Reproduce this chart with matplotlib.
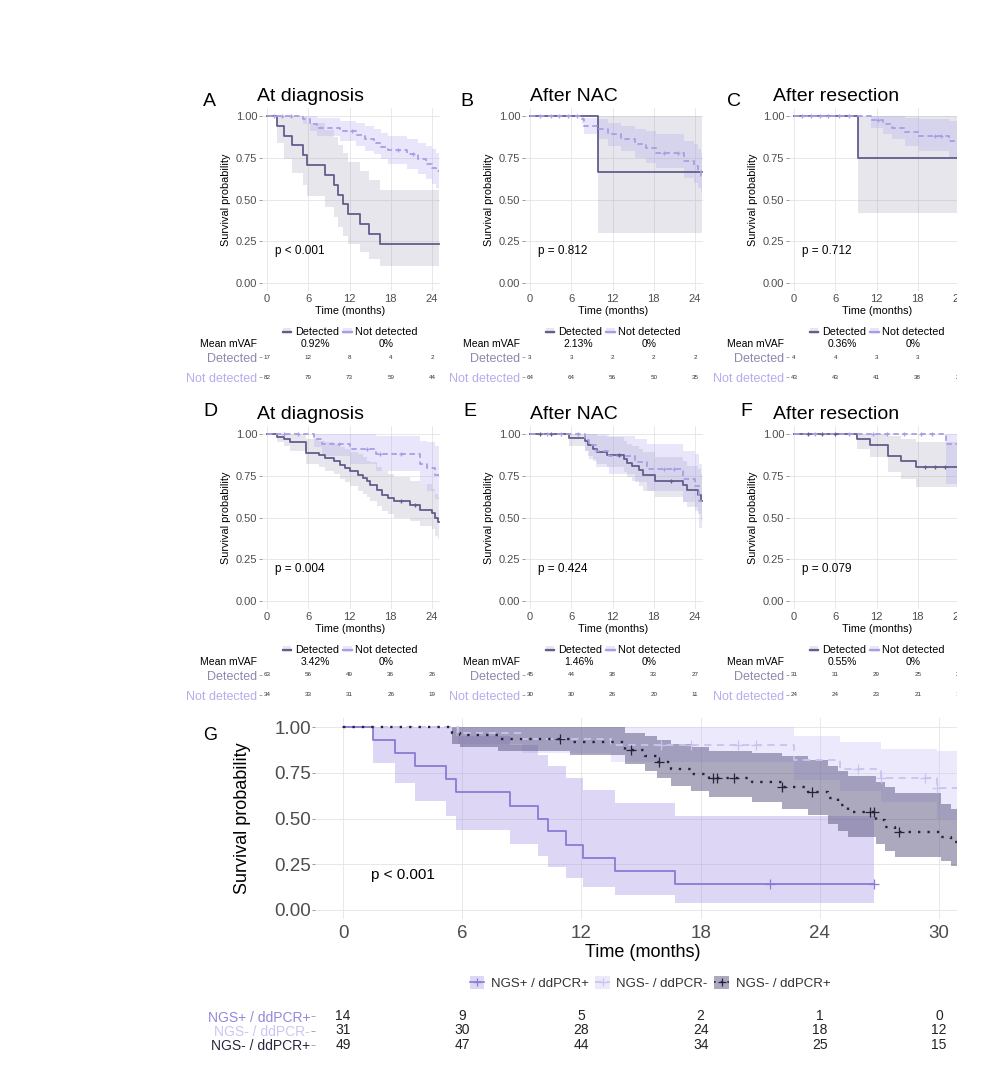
import matplotlib
matplotlib.use("Agg")
import matplotlib.pyplot as plt
import numpy as np
from matplotlib.patches import Patch, Rectangle
from matplotlib.lines import Line2D

plt.rcParams['font.family'] = ['Liberation Sans', 'DejaVu Sans']

# ---- panel A: at diagnosis (NGS) ----
a_det_t = [0, 1.5, 2.5, 3.6, 5.3, 5.8, 8.4, 9.7, 10.3, 11.1, 11.8, 13.5, 14.9, 16.5]
a_det_s = [1, .941, .882, .824, .765, .706, .647, .588, .529, .471, .412, .353, .294, .235]
a_det_lo = [1, .836, .741, .661, .587, .519, .455, .395, .338, .284, .233, .186, .141, .100]
a_det_hi = [1, 1, 1, 1, .996, .959, .918, .875, .828, .780, .727, .672, .614, .554]
a_det_cens = []
a_nd_t = [0, 5.3, 6.3, 7.2, 10.6, 13.0, 14.2, 15.5, 16.6, 17.6, 20.4, 22.0, 23.1, 24.0, 24.6]
a_nd_s = [1, .98, .955, .928, .91, .885, .86, .84, .815, .795, .77, .74, .715, .69, .67]
a_nd_lo = [1, .95, .91, .88, .85, .82, .79, .77, .74, .71, .68, .65, .62, .59, .57]
a_nd_hi = [1, 1, 1, .99, .97, .96, .94, .92, .90, .88, .86, .84, .82, .80, .78]
a_nd_cens = [1.0, 2.2, 3.5, 12.3, 19.0, 21.2]
a_risk_det = [17, 12, 8, 4, 2]
a_risk_nd = [82, 79, 73, 59, 44]

# ---- panel B: after NAC (NGS) ----
b_det_t = [0, 9.85]
b_det_s = [1, .667]
b_det_lo = [1, .30]
b_det_hi = [1, 1]
b_det_cens = []
b_nd_t = [0, 7.5, 7.9, 10.0, 11.3, 13.2, 15.2, 16.8, 18.3, 22.4, 23.8, 24.4, 24.9]
b_nd_s = [1, .98, .94, .92, .89, .86, .83, .81, .78, .73, .70, .67, .64]
b_nd_lo = [1, .95, .89, .86, .82, .79, .75, .72, .69, .63, .60, .57, .54]
b_nd_hi = [1, 1, .99, .98, .96, .94, .92, .91, .89, .85, .83, .80, .78]
b_nd_cens = [1.5, 3.0, 4.2, 5.5, 6.8, 19.5, 21.5]
b_risk_det = [3, 3, 2, 2, 2]
b_risk_nd = [64, 64, 56, 50, 35]

# ---- panel C: after resection (NGS) ----
c_det_t = [0, 9.3]
c_det_s = [1, .75]
c_det_lo = [1, .42]
c_det_hi = [1, 1]
c_det_cens = []
c_nd_t = [0, 11.2, 13.0, 14.3, 16.2, 18.2, 22.6]
c_nd_s = [1, .976, .952, .928, .903, .878, .852]
c_nd_lo = [1, .93, .89, .86, .82, .79, .75]
c_nd_hi = [1, 1, 1, 1, .99, .98, .97]
c_nd_cens = [1.2, 2.5, 3.8, 5.0, 6.5, 8.0, 12.2, 20.5, 21.4]
c_risk_det = [4, 4, 3, 3, 3]
c_risk_nd = [43, 43, 41, 38, 29]

# ---- panel D: at diagnosis (ddPCR) ----
d_det_t = [0, 1.4, 2.4, 3.3, 5.6, 7.5, 8.4, 9.7, 10.6, 11.3, 12.0, 13.3, 14.0, 14.5, 15.0,
           15.95, 16.7, 17.6, 18.4, 20.8, 22.3, 24.0, 24.4, 24.8]
d_det_s = [1, .984, .968, .952, .889, .873, .857, .84, .816, .796, .776, .756, .737, .717, .697,
           .667, .637, .617, .597, .577, .547, .527, .497, .473]
d_det_lo = [1, .95, .93, .90, .82, .80, .78, .76, .73, .71, .69, .66, .64, .62, .60,
            .57, .54, .52, .50, .48, .45, .43, .39, .37]
d_det_hi = [1, 1, 1, 1, .97, .96, .95, .94, .92, .91, .89, .88, .86, .84, .83,
            .80, .78, .76, .74, .72, .70, .67, .64, .62]
d_det_cens = [19.5, 21.5]
d_nd_t = [0, 6.8, 8.0, 12.0, 15.8, 22.3, 23.3, 24.4]
d_nd_s = [1, .971, .941, .912, .882, .823, .794, .756]
d_nd_lo = [1, .92, .87, .82, .78, .70, .66, .61]
d_nd_hi = [1, 1, 1, 1, .99, .96, .95, .93]
d_nd_cens = [2.5, 4.5, 10.5, 14.5, 16.5, 19.5]
d_risk_det = [63, 56, 49, 36, 26]
d_risk_nd = [34, 33, 31, 26, 19]

# ---- panel E: after NAC (ddPCR) ----
e_det_t = [0, 5.7, 8.0, 8.5, 9.2, 9.7, 11.2, 13.6, 14.1, 14.8, 15.8, 16.5, 18.2, 22.3, 22.8, 24.5, 24.9]
e_det_s = [1, .978, .956, .933, .911, .892, .877, .852, .826, .806, .783, .756, .72, .693, .666, .636, .60]
e_det_lo = [1, .93, .90, .87, .84, .82, .80, .77, .74, .72, .69, .66, .62, .59, .56, .52, .48]
e_det_hi = [1, 1, 1, 1, 1, .99, .98, .96, .94, .93, .91, .89, .86, .84, .81, .79, .76]
e_det_cens = [1.5, 3.0, 13.0, 20.5]
e_nd_t = [0, 8.0, 8.6, 9.6, 11.5, 15.3, 17.0, 22.2, 24.0, 24.6]
e_nd_s = [1, .967, .933, .90, .867, .833, .79, .73, .69, .60]
e_nd_lo = [1, .90, .85, .80, .76, .71, .66, .59, .54, .44]
e_nd_hi = [1, 1, 1, 1, .99, .97, .94, .90, .88, .82]
e_nd_cens = [2.5, 4.5, 7.0, 19.5, 21.0]
e_risk_det = [45, 44, 38, 33, 27]
e_risk_nd = [30, 30, 26, 20, 11]

# ---- panel F: after resection (ddPCR) ----
f_det_t = [0, 9.2, 11.1, 13.6, 15.5, 17.7]
f_det_s = [1, .968, .935, .870, .838, .80]
f_det_lo = [1, .91, .86, .77, .73, .68]
f_det_hi = [1, 1, 1, .99, .97, .95]
f_det_cens = [2.0, 4.0, 6.0, 19.0, 20.5, 22.0]
f_nd_t = [0, 22.1]
f_nd_s = [1, .94]
f_nd_lo = [1, .70]
f_nd_hi = [1, 1]
f_nd_cens = [3.0, 8.0, 11.5, 13.5, 16.0, 18.5, 20.0]
f_risk_det = [31, 31, 29, 25, 22]
f_risk_nd = [24, 24, 23, 21, 14]

small_titles = ['At diagnosis', 'After NAC', 'After resection'] * 2
small_letters = ['A', 'B', 'C', 'D', 'E', 'F']
small_pvals = ['p < 0.001', 'p = 0.812', 'p = 0.712', 'p = 0.004', 'p = 0.424', 'p = 0.079']
small_vaf = ['0.92%', '2.13%', '0.36%', '3.42%', '1.46%', '0.55%']
risk_times = [0, 6, 12, 18, 24]
group_labels = ['Detected', 'Not detected']

# ---- panel G: combined NGS / ddPCR ----
g1_t = [0, 1.5, 2.6, 3.6, 5.2, 5.7, 8.4, 9.8, 10.3, 11.2, 12.1, 13.7, 16.7]
g1_s = [1, .929, .857, .786, .714, .643, .571, .5, .429, .357, .286, .214, .143]
g1_lo = [1, .803, .692, .598, .513, .435, .363, .296, .234, .177, .125, .079, .040]
g1_hi = [1, 1, 1, 1, .995, .950, .900, .845, .785, .721, .655, .584, .516]
g1_cens = [21.5, 26.7]
g1_end = 26.7
g2_t = [0, 5.8, 9.0, 13.5, 22.7, 25.0, 27.1, 29.9]
g2_s = [1, .968, .935, .903, .82, .77, .72, .665]
g2_lo = [1, .91, .86, .81, .71, .65, .59, .50]
g2_hi = [1, 1, 1, 1, .95, .92, .88, .87]
g2_cens = [16.0, 17.5, 19.9, 20.8, 25.9, 27.1, 29.3, 29.9]
g2_end = 31
g3_t = [0, 5.5, 5.9, 7.8, 11.4, 14.2, 15.2, 15.8, 16.5, 17.5, 18.4, 20.6, 22.1, 23.4, 24.4,
        24.9, 25.4, 26.8, 27.3, 27.8, 30.1, 30.6]
g3_s = [1, .969, .955, .937, .92, .874, .84, .809, .772, .745, .72, .70, .67, .645, .612,
        .575, .538, .492, .456, .428, .40, .37]
g3_lo = [1, .91, .89, .87, .85, .80, .76, .72, .68, .65, .62, .59, .55, .52, .47,
         .43, .40, .36, .32, .29, .27, .24]
g3_hi = [1, 1, 1, 1, 1, .97, .95, .93, .91, .89, .87, .86, .84, .82, .79,
         .76, .73, .70, .67, .64, .58, .55]
g3_cens = [10.9, 14.5, 15.9, 18.6, 18.8, 19.7, 22.1, 23.6, 26.5, 26.7, 28.0]
g3_end = 31
g_labels = ['NGS+ / ddPCR+', 'NGS- / ddPCR-', 'NGS- / ddPCR+']
g_risk_times = [0, 6, 12, 18, 24, 30]
g1_risk = [14, 9, 5, 2, 1, 0]
g2_risk = [31, 30, 28, 24, 18, 12]
g3_risk = [49, 47, 44, 34, 25, 15]

W, H = 1000, 1086
DET_LINE, ND_LINE = '#625d8b', '#a79fe4'
DET_BAND, ND_BAND = '#9c9cb4', '#a99ff0'
DET_TXT, ND_TXT = '#8d88ae', '#b4adef'
G_LINE = ['#8a7bd6', '#c9c3f0', '#26223a']
G_BAND = ['#a08be0', '#c8c2f5', '#5a5480']
G_ALPHA = [0.35, 0.35, 0.5]
G_TXT = ['#9488d8', '#ccc7f2', '#2b2741']


def box(l, r, t, b):
    return [l / W, 1 - b / H, (r - l) / W, (b - t) / H]


def km(ax, t, s, lo, hi, end, cens, color, band, alpha, ls, lw, ms):
    tt = list(t) + [end]
    ax.fill_between(tt, list(lo) + [lo[-1]], list(hi) + [hi[-1]], step='post',
                    color=band, alpha=alpha, lw=0, zorder=1)
    ax.step(tt, list(s) + [s[-1]], where='post', color=color, ls=ls, lw=lw, zorder=3)
    if cens:
        cs = [s[np.searchsorted(t, c, side='right') - 1] for c in cens]
        ax.plot(cens, cs, ls='none', marker='+', ms=ms, mew=0.9, color=color, zorder=4)


def base_style(ax, fs, ylen):
    ax.set_ylim(-0.05, 1.05)
    ax.set_yticks([0, .25, .5, .75, 1])
    ax.set_yticklabels(['0.00', '0.25', '0.50', '0.75', '1.00'])
    ax.grid(color='#e4e4e4', lw=0.6)
    ax.set_axisbelow(True)
    for sp in ax.spines.values():
        sp.set_visible(False)
    ax.tick_params(axis='y', length=ylen, width=0.6, color='#8a8a8a', pad=0.5,
                   labelsize=fs, labelcolor='#4d4d4d')


fig = plt.figure(figsize=(W / 100, H / 100), dpi=100)

small_data = [
    (a_det_t, a_det_s, a_det_lo, a_det_hi, a_det_cens, a_nd_t, a_nd_s, a_nd_lo, a_nd_hi, a_nd_cens, a_risk_det, a_risk_nd),
    (b_det_t, b_det_s, b_det_lo, b_det_hi, b_det_cens, b_nd_t, b_nd_s, b_nd_lo, b_nd_hi, b_nd_cens, b_risk_det, b_risk_nd),
    (c_det_t, c_det_s, c_det_lo, c_det_hi, c_det_cens, c_nd_t, c_nd_s, c_nd_lo, c_nd_hi, c_nd_cens, c_risk_det, c_risk_nd),
    (d_det_t, d_det_s, d_det_lo, d_det_hi, d_det_cens, d_nd_t, d_nd_s, d_nd_lo, d_nd_hi, d_nd_cens, d_risk_det, d_risk_nd),
    (e_det_t, e_det_s, e_det_lo, e_det_hi, e_det_cens, e_nd_t, e_nd_s, e_nd_lo, e_nd_hi, e_nd_cens, e_risk_det, e_risk_nd),
    (f_det_t, f_det_s, f_det_lo, f_det_hi, f_det_cens, f_nd_t, f_nd_s, f_nd_lo, f_nd_hi, f_nd_cens, f_risk_det, f_risk_nd),
]

col_x0 = [267, 530, 794]
letter_x = [[203, 460, 727], [203, 463, 740]]
title_x = [257, 530, 773]
row_y1 = [116, 434]
letter_base = [105.5, 416]
title_base = [101, 419]

for i, d in enumerate(small_data):
    row, col = divmod(i, 3)
    x0, y1 = col_x0[col], row_y1[row]
    l, r = x0 - 0.8 * 6.875, x0 + 25.1 * 6.875
    ax = fig.add_axes(box(l, r, y1 - 8.35, y1 + 175.35))
    km(ax, d[0], d[1], d[2], d[3], 25, d[4], DET_LINE, DET_BAND, 0.25, '-', 1.3, 3.5)
    km(ax, d[5], d[6], d[7], d[8], 25, d[9], ND_LINE, ND_BAND, 0.25, (0, (3, 2)), 1.3, 3.5)
    ax.set_xlim(-0.8, 25.1)
    ax.set_xticks(risk_times)
    base_style(ax, 8, 2.5)
    ax.tick_params(axis='x', length=0, pad=2, labelsize=8, labelcolor='#4d4d4d')
    ax.set_xlabel('Time (months)', fontsize=7.8)
    ax.xaxis.set_label_coords(0.5, -0.08)
    ax.set_ylabel('Survival probability', fontsize=7.8)
    ax.yaxis.set_label_coords(-0.17, 0.5)
    ax.text(1.2, 0.19, small_pvals[i], fontsize=8.5, va='center', ha='left')

    fig.text(letter_x[row][col] / W, 1 - letter_base[row] / H, small_letters[i],
             fontsize=14, va='baseline', ha='left')
    fig.text(title_x[col] / W, 1 - title_base[row] / H, small_titles[i],
             fontsize=14, va='baseline', ha='left')

    cx = (l + r) / 2
    handles = [(Patch(facecolor=DET_BAND, alpha=0.25, edgecolor='none'),
                Line2D([], [], color=DET_LINE, lw=1.6)),
               (Patch(facecolor=ND_BAND, alpha=0.25, edgecolor='none'),
                Line2D([], [], color=ND_LINE, lw=1.6))]
    fig.legend(handles, group_labels, loc='center', bbox_to_anchor=(cx / W, 1 - (y1 + 216) / H),
               ncol=2, frameon=False, fontsize=7.8, handlelength=0.75, handleheight=0.5,
               handletextpad=0.35, columnspacing=0.4, borderpad=0)
    fig.text((x0 - 67) / W, 1 - (y1 + 228) / H, 'Mean mVAF', fontsize=7.5, va='center', ha='left')
    fig.text((cx - 35) / W, 1 - (y1 + 228) / H, small_vaf[i], fontsize=7.5, va='center', ha='center')
    fig.text((cx + 36) / W, 1 - (y1 + 228) / H, '0%', fontsize=7.5, va='center', ha='center')

    rax = fig.add_axes(box(l, r, y1 + 241, y1 + 261))
    rax.set_xlim(-0.8, 25.1)
    rax.set_ylim(0, 1)
    rax.patch.set_visible(False)
    for sp in rax.spines.values():
        sp.set_visible(False)
    rax.xaxis.set_visible(False)
    rax.set_yticks([1, 0])
    rax.set_yticklabels(group_labels)
    rax.tick_params(axis='y', length=2.5, width=0.6, color='#9a9a9a', pad=0.5, labelsize=9)
    for lbl, c in zip(rax.get_yticklabels(), [DET_TXT, ND_TXT]):
        lbl.set_color(c)
    for t, n1, n2 in zip(risk_times, d[10], d[11]):
        rax.text(t, 1, str(n1), fontsize=4.5, ha='center', va='center', color='#333333')
        rax.text(t, 0, str(n2), fontsize=4.5, ha='center', va='center', color='#333333')

# ---- panel G ----
gl, gr = 315, 957
gax = fig.add_axes(box(gl, gr, 718, 919))
g_sets = [(g1_t, g1_s, g1_lo, g1_hi, g1_end, g1_cens),
          (g2_t, g2_s, g2_lo, g2_hi, g2_end, g2_cens),
          (g3_t, g3_s, g3_lo, g3_hi, g3_end, g3_cens)]
g_ls = ['-', (0, (4, 3)), (0, (1, 3))]
g_lw = [1.3, 1.3, 1.7]
for k in [1, 0, 2]:
    t, s, lo, hi, end, cens = g_sets[k]
    km(gax, t, s, lo, hi, end, cens, G_LINE[k], G_BAND[k], G_ALPHA[k], g_ls[k], g_lw[k], 7)
gax.set_xlim(-1.41, 30.9)
gax.set_xticks(g_risk_times)
base_style(gax, 13.5, 2.5)
gax.tick_params(axis='x', length=0, pad=4, labelsize=13.5, labelcolor='#4d4d4d')
gax.set_xlabel('Time (months)', fontsize=13)
gax.xaxis.set_label_coords(0.51, -0.125)
gax.set_ylabel('Survival probability', fontsize=13)
gax.yaxis.set_label_coords(-0.1, 0.5)
gax.text(1.4, 0.19, 'p < 0.001', fontsize=11, va='center', ha='left')
fig.text(203 / W, 1 - 740 / H, 'G', fontsize=13, va='baseline', ha='left')

g_handles = [(Patch(facecolor=G_BAND[k], alpha=G_ALPHA[k], edgecolor='none'),
              Line2D([], [], color=G_LINE[k], ls='-' if k == 0 else g_ls[k], lw=1.2,
                     marker='+', ms=6, mew=0.9)) for k in range(3)]
fig.legend(g_handles, g_labels, loc='center', bbox_to_anchor=(650 / W, 1 - 983 / H), ncol=3,
           frameon=False, fontsize=9.5, handlelength=1.1, handleheight=1.1,
           handletextpad=0.5, columnspacing=0.5, borderpad=0, labelcolor='#333333')

grax = fig.add_axes(box(gl, gr, 1016, 1045))
grax.set_xlim(-1.41, 30.9)
grax.set_ylim(0, 2)
grax.patch.set_visible(False)
for sp in grax.spines.values():
    sp.set_visible(False)
grax.xaxis.set_visible(False)
grax.set_yticks([2, 1, 0])
grax.set_yticklabels(g_labels)
grax.tick_params(axis='y', length=3, width=0.6, color='#9a9a9a', pad=0.5, labelsize=10)
for lbl, c in zip(grax.get_yticklabels(), G_TXT):
    lbl.set_color(c)
for row_y, counts in zip([2, 1, 0], [g1_risk, g2_risk, g3_risk]):
    for t, n in zip(g_risk_times, counts):
        grax.text(t, row_y, str(n), fontsize=10, ha='center', va='center', color='#222222')

# the source figure is cut off at the right edge
fig.add_artist(Rectangle((957 / W, 0), 1, 1, transform=fig.transFigure,
                         facecolor='white', edgecolor='none', zorder=1000))

fig.savefig('out.png', dpi=100)
